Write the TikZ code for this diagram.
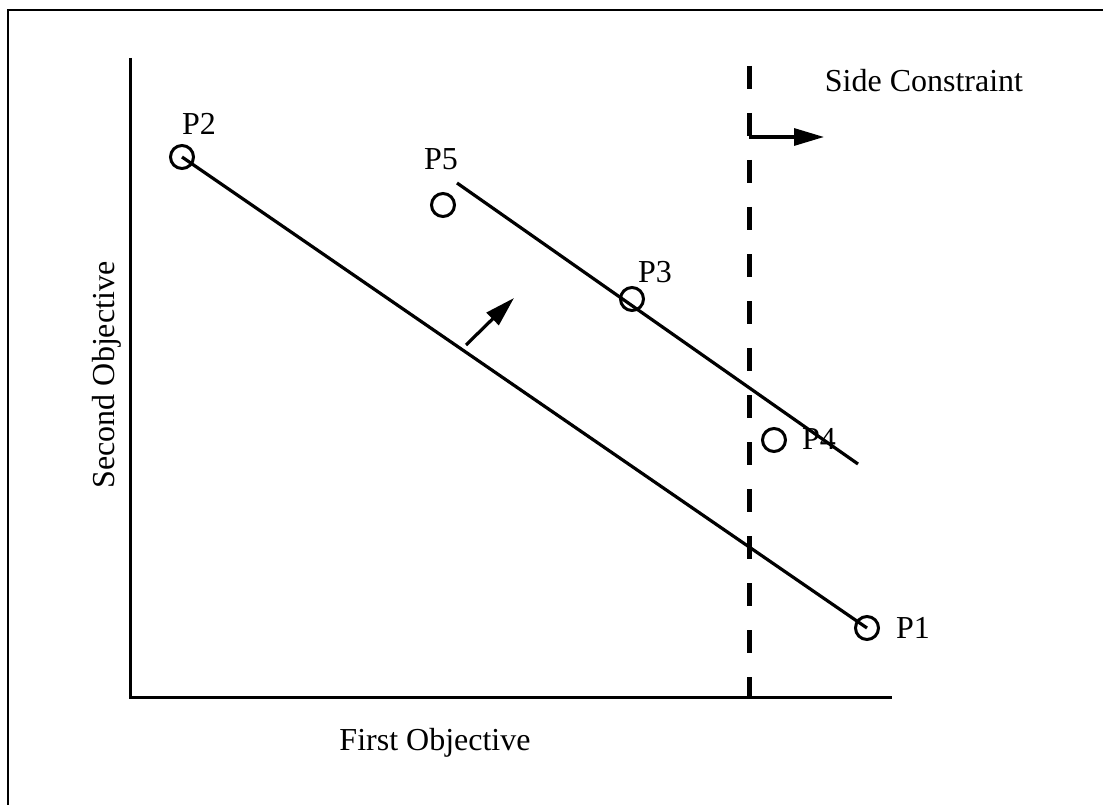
\documentclass[tikz,border=0pt]{standalone}
\usepackage{fontspec}
\setmainfont{Liberation Serif}
\usetikzlibrary{arrows.meta}
\begin{document}
\begin{tikzpicture}[x=1pt,y=-1pt,
  font=\fontsize{32}{38}\selectfont,
  pnt/.style={circle, draw, line width=3pt, minimum size=23pt, inner sep=0pt},
  lbl/.style={inner sep=0pt},
  ln/.style={line width=3.2pt},
  axis/.style={line width=3pt},
  constr/.style={line width=5pt, dash pattern=on 23pt off 24pt},
  tip/.style={-{Triangle[length=30pt,width=17pt]}, line width=3.2pt}]
\useasboundingbox (0,0) rectangle (1103,805);
% frame
\draw[line width=2.5pt] (8,805) -- (8,10) -- (1103,10);
% axes
\coordinate (ytop) at (130,58);
\coordinate (orig) at (130,697);
\coordinate (xend) at (892,697);
\draw[axis] (ytop) -- (orig) -- (xend);
% side constraint
\coordinate (ctop) at (749,66);
\coordinate (cbot) at (749,697);
\draw[constr] (ctop) -- (cbot);
\coordinate (cl) at (749,137);
\coordinate (cr) at (824,137);
\draw[tip] (cl) -- (cr);
\node[lbl] (sc) at (924,81) {Side Constraint};
% points
\node[pnt] (P2) at (182,157) {};
\node[pnt] (P5) at (443,205) {};
\node[pnt] (P3) at (632,299) {};
\node[pnt] (P4) at (774,440) {};
\node[pnt] (P1) at (867,628) {};
\node[lbl] (L2) at (199,124) {P2};
\node[lbl] (L5) at (441,159) {P5};
\node[lbl] (L3) at (655,272) {P3};
\node[lbl] (L4) at (819,439) {P4};
\node[lbl] (L1) at (913,628) {P1};
% lines
\draw[ln] (P2.center) -- (P1.center);
\coordinate (a) at (457,183);
\coordinate (b) at (858,464);
\draw[ln] (a) -- (b);
% shift arrow
\coordinate (s1) at (466,345);
\coordinate (s2) at (514,298);
\draw[tip] (s1) -- (s2);
% axis labels
\node[lbl, anchor=base] (fo) at (435,750) {First Objective};
\node[lbl, anchor=base, rotate=90] (so) at (114,375) {Second Objective};
\end{tikzpicture}
\end{document}
